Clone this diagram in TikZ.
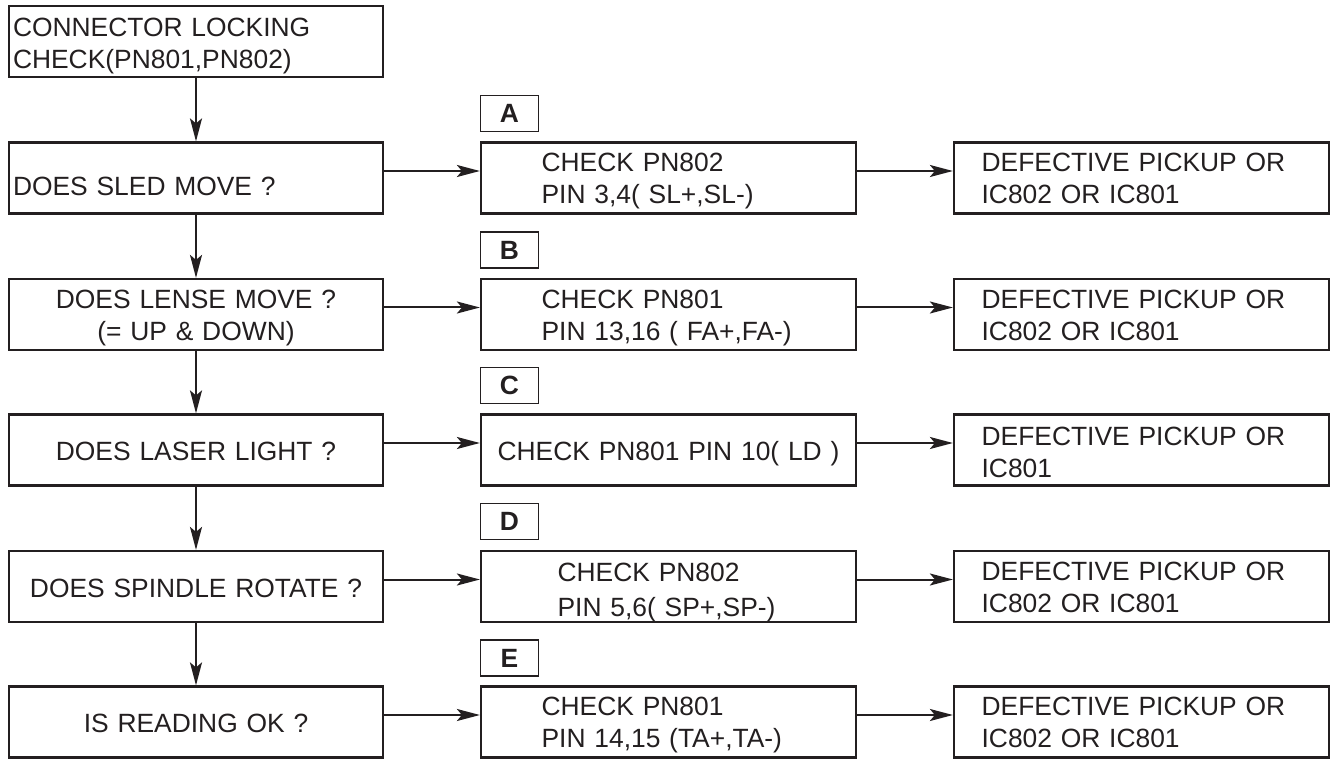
\documentclass[tikz,border=0pt]{standalone}
\usepackage{fontspec}
\setmainfont{Liberation Sans}
\usetikzlibrary{arrows.meta}
\definecolor{ink}{RGB}{35,31,32}
\newcommand{\fs}{\fontsize{13.2pt}{16pt}\selectfont}
\tikzset{
  box/.style={draw=ink, line width=1.1pt, minimum height=35.5pt, inner sep=0pt,
    font=\fs, text=ink},
  lcol/.style={box, minimum width=187pt, text width=183pt},
  mcol/.style={box, minimum width=187.5pt, text width=183.5pt},
  one/.style={text height=10.5pt, text depth=0pt},
  two/.style={text height=9.5pt, text depth=16pt},
  tag/.style={draw=ink, line width=0.6pt, minimum width=29pt, minimum height=18pt,
    inner sep=0pt, font=\fs\bfseries, text=ink},
  arr/.style={draw=ink, line width=1pt, -{Stealth[length=11.5pt,width=6pt,inset=2.5pt]}},
}
\begin{document}
\begin{tikzpicture}[x=0.5pt,y=-0.5pt]
\useasboundingbox (0,0) rectangle (1333,759);
% left column
\node[lcol, align=left, two, text height=11pt] (T) at (196,41.5) {CONNECTOR LOCKING\\CHECK(PN801,PN802)};
\node[lcol, align=left, text height=18pt, text depth=0pt] (L1) at (196,178) {DOES SLED MOVE ?};
\node[lcol, align=center, two] (L2) at (196,314.5) {DOES LENSE MOVE ?\\(= UP \& DOWN)};
\node[lcol, align=center, one] (L3) at (196,450) {DOES LASER LIGHT ?};
\node[lcol, align=center, one] (L4) at (196,586.5) {DOES SPINDLE ROTATE ?};
\node[lcol, align=center, one] (L5) at (196,722) {IS READING OK ?};
% tags
\node[tag] (TA) at (509.5,113.5) {A};
\node[tag] (TB) at (509.5,250) {B};
\node[tag] (TC) at (509.5,385.5) {C};
\node[tag] (TD) at (509.5,521.5) {D};
\node[tag] (TE) at (509.5,658) {E};
% middle column
\node[mcol, align=left, two] (M1) at (668.5,178) {\hspace*{28.3pt}CHECK PN802\\\hspace*{28.3pt}PIN 3,4( SL+,SL-)};
\node[mcol, align=left, two] (M2) at (668.5,314.5) {\hspace*{28.3pt}CHECK PN801\\\hspace*{28.3pt}PIN 13,16 ( FA+,FA-)};
\node[mcol, align=center, one] (M3) at (668.5,450) {CHECK PN801 PIN 10( LD )};
\node[mcol, align=left, font=\fontsize{13.2pt}{17.5pt}\selectfont, text height=12pt, text depth=17.5pt] (M4) at (668.5,586.5) {\hspace*{36.3pt}CHECK PN802\\\hspace*{36.3pt}PIN 5,6( SP+,SP-)};
\node[mcol, align=left, two] (M5) at (668.5,722) {\hspace*{28.3pt}CHECK PN801\\\hspace*{28.3pt}PIN 14,15 (TA+,TA-)};
% right column
\node[mcol, align=left, two] (R1) at (1141.5,178) {\hspace*{11.8pt}DEFECTIVE PICKUP OR\\\hspace*{11.8pt}IC802 OR IC801};
\node[mcol, align=left, two] (R2) at (1141.5,314.5) {\hspace*{11.8pt}DEFECTIVE PICKUP OR\\\hspace*{11.8pt}IC802 OR IC801};
\node[mcol, align=left, two, text height=11pt] (R3) at (1141.5,450) {\hspace*{11.8pt}DEFECTIVE PICKUP OR\\\hspace*{11.8pt}IC801};
\node[mcol, align=left, two] (R4) at (1141.5,586.5) {\hspace*{11.8pt}DEFECTIVE PICKUP OR\\\hspace*{11.8pt}IC802 OR IC801};
\node[mcol, align=left, two] (R5) at (1141.5,722) {\hspace*{11.8pt}DEFECTIVE PICKUP OR\\\hspace*{11.8pt}IC802 OR IC801};
% vertical arrows
\draw[arr] (T.south) -- (L1.north);
\draw[arr] (L1.south) -- (L2.north);
\draw[arr] (L2.south) -- (L3.north);
\draw[arr] (L3.south) -- (L4.north);
\draw[arr] (L4.south) -- (L5.north);
% horizontal arrows
\foreach \i in {1,...,5}{
  \draw[arr] ([yshift=3.5pt]L\i.east) -- ([yshift=3.5pt]M\i.west);
  \draw[arr] ([yshift=3.5pt]M\i.east) -- ([yshift=3.5pt]R\i.west);
}
\end{tikzpicture}
\end{document}
